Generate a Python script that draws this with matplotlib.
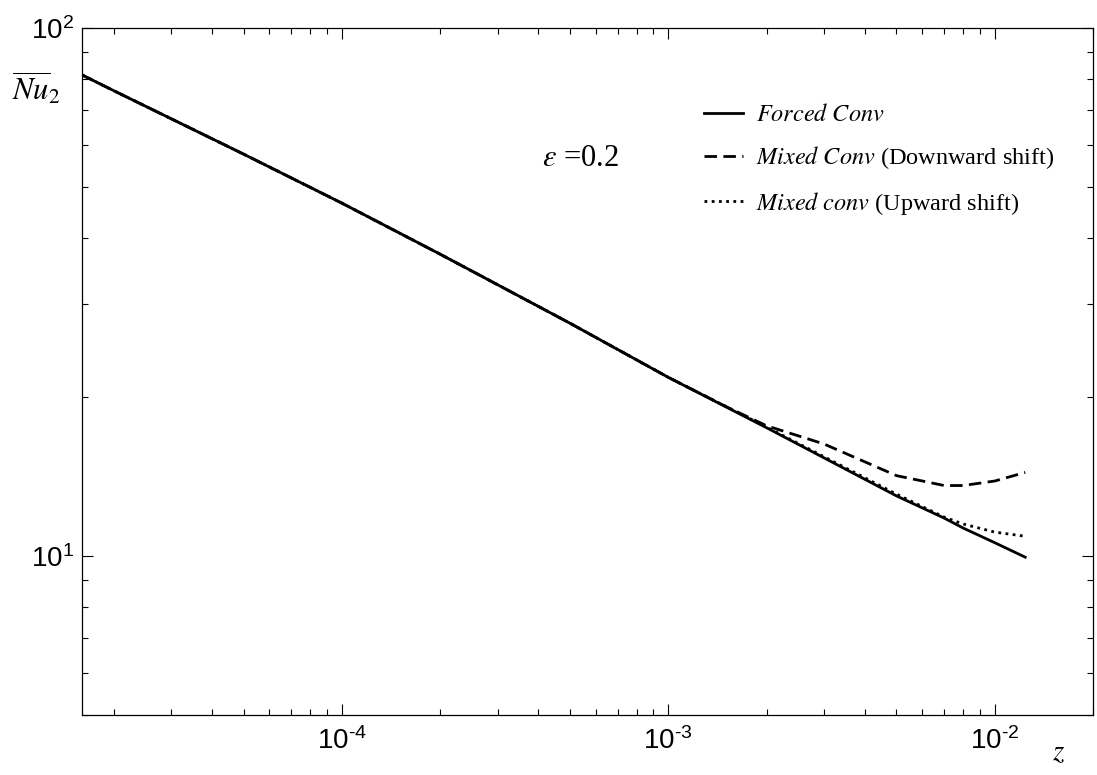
import matplotlib

matplotlib.use("Agg")
import numpy as np
import matplotlib.pyplot as plt
from matplotlib.font_manager import FontProperties
from matplotlib.ticker import FuncFormatter, LogLocator, NullFormatter

# values (log-log)
z_forced = [1.6e-5, 2e-5, 5e-5, 1e-4, 2e-4, 5e-4, 1e-3, 2e-3, 5e-3, 7e-3, 8e-3, 1e-2, 1.24e-2]
nu_forced = [81.5, 76.1, 57.7, 46.6, 37.3, 27.6, 21.8, 17.5, 13.0, 11.8, 11.3, 10.6, 9.95]

z_down = [1.6e-5, 2e-5, 5e-5, 1e-4, 2e-4, 5e-4, 1e-3, 1.5e-3, 2e-3, 3e-3, 5e-3, 7e-3, 8e-3, 1e-2, 1.24e-2]
nu_down = [81.5, 76.1, 57.7, 46.6, 37.3, 27.6, 21.8, 19.2, 17.65, 16.3, 14.2, 13.6, 13.6, 13.87, 14.4]

z_up = [1.6e-5, 2e-5, 5e-5, 1e-4, 2e-4, 5e-4, 1e-3, 2e-3, 5e-3, 7e-3, 8e-3, 1e-2, 1.24e-2]
nu_up = [81.5, 76.1, 57.7, 46.6, 37.3, 27.6, 21.8, 17.55, 13.1, 11.85, 11.5, 11.1, 10.9]

labels = [
    r"$\it{Forced\ Conv}$",
    r"$\it{Mixed\ Conv}$ (Downward shift)",
    r"$\it{Mixed\ conv}$ (Upward shift)",
]

plt.rcParams["font.family"] = ["Liberation Sans", "DejaVu Sans"]
plt.rcParams["mathtext.fontset"] = "custom"
plt.rcParams["mathtext.rm"] = "Liberation Sans"
plt.rcParams["mathtext.it"] = "Liberation Sans:italic"
plt.rcParams["mathtext.bf"] = "Liberation Sans:bold"


def pow_label(v, pos):
    e = int(round(np.log10(v)))
    return r"$\mathrm{10}^{\text{%d}}$" % e


W, H = 1097, 775
fig = plt.figure(figsize=(W / 100, H / 100), dpi=100)
ax = fig.add_axes([82 / W, 1 - 715 / H, (1093 - 82) / W, (715 - 28) / H])

ax.plot(z_forced, nu_forced, color="black", linewidth=2.0, linestyle="-", label=labels[0])
ax.plot(z_down, nu_down, color="black", linewidth=2.0, linestyle=(0, (4.5, 2.3)), label=labels[1])
ax.plot(z_up, nu_up, color="black", linewidth=2.0, linestyle=(0, (1, 1.6)), label=labels[2])

ax.set_xscale("log")
ax.set_yscale("log")
ax.set_xlim(1.6e-5, 2e-2)
ax.set_ylim(5, 100)

ax.xaxis.set_major_locator(LogLocator(base=10, numticks=10))
ax.xaxis.set_minor_locator(LogLocator(base=10, subs=range(2, 10), numticks=20))
ax.yaxis.set_minor_locator(LogLocator(base=10, subs=range(2, 10), numticks=20))
ax.xaxis.set_major_formatter(FuncFormatter(pow_label))
ax.yaxis.set_major_formatter(FuncFormatter(pow_label))
ax.xaxis.set_minor_formatter(NullFormatter())
ax.yaxis.set_minor_formatter(NullFormatter())

ax.tick_params(which="both", direction="in", top=True, right=True, width=0.8, labelsize=20)
ax.tick_params(which="major", length=8)
ax.tick_params(which="minor", length=4)
ax.tick_params(axis="x", pad=9)
ax.tick_params(axis="y", pad=6)
for spine in ax.spines.values():
    spine.set_linewidth(0.9)


def serif(size):
    return FontProperties(family=["Liberation Serif", "DejaVu Serif"], size=size, math_fontfamily="stix")


fig.text(12 / W, 1 - 100 / H, r"$\overline{Nu}_{2}$", fontproperties=serif(22), va="baseline", ha="left")
fig.text(1052 / W, 1 - 760 / H, r"$z$", fontproperties=serif(21), va="baseline", ha="left")
fig.text(542 / W, 1 - 166 / H, r"$\varepsilon$ =0.2", fontproperties=serif(22), va="baseline", ha="left")

ax.legend(
    loc="upper left",
    bbox_to_anchor=(692 / W, 1 - 92 / H),
    bbox_transform=fig.transFigure,
    frameon=False,
    prop=serif(17.5),
    handlelength=1.6,
    handletextpad=0.55,
    labelspacing=0.75,
    borderpad=0.0,
)

fig.savefig("out.png", dpi=100, facecolor="white")
